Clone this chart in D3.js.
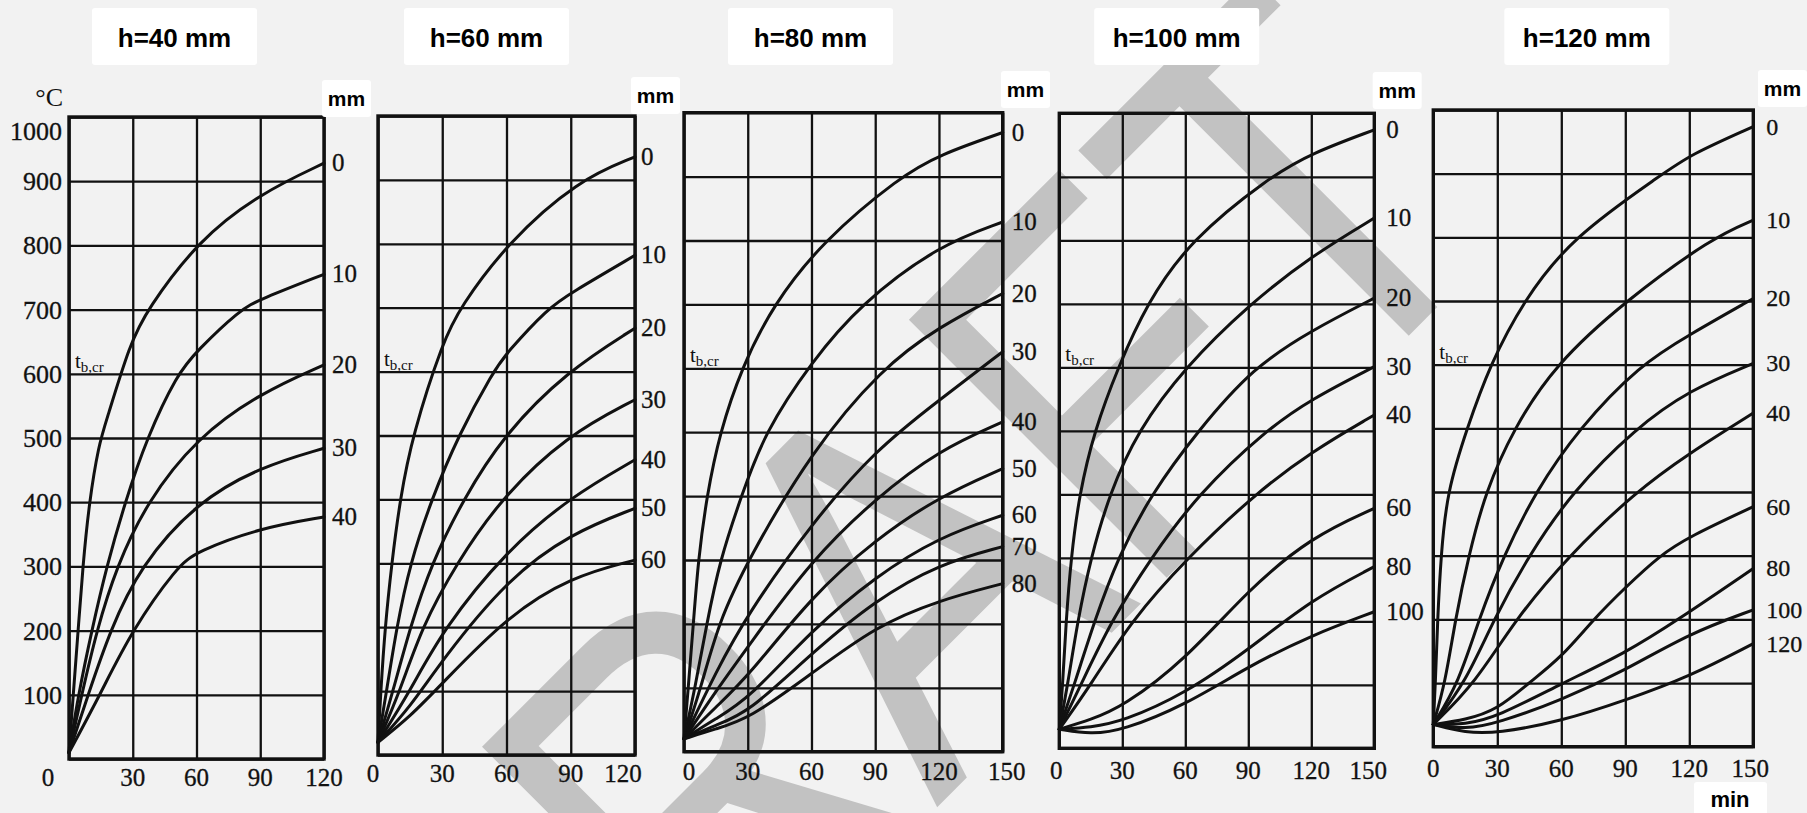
<!DOCTYPE html>
<html><head><meta charset="utf-8">
<script src="https://cdn.jsdelivr.net/npm/d3@7"></script>
<style>html,body{margin:0;padding:0;background:#f2f2f2;overflow:hidden}</style>
</head><body><svg id="chart" width="1807" height="813"></svg>
<script>
// ---------------- DATA ----------------
const panelTitles = ["h=40 mm", "h=60 mm", "h=80 mm", "h=100 mm", "h=120 mm"];
const panelTimeMax = [120, 120, 150, 150, 150];
const timeTicks120 = [0, 30, 60, 90, 120];
const timeTicks150 = [0, 30, 60, 90, 120, 150];
const tempTicks = [0, 100, 200, 300, 400, 500, 600, 700, 800, 900, 1000];
const tempTickLabels = ["0", "100", "200", "300", "400", "500", "600", "700", "800", "900", "1000"];
const depthUnit = "mm", timeUnit = "min", tempUnit = "°C";
const critLabelMain = "t", critLabelSub = "b,cr";

const depths40 = [0, 10, 20, 30, 40];
const depths60 = [0, 10, 20, 30, 40, 50, 60];
const depths80 = [0, 10, 20, 30, 40, 50, 60, 70, 80];
const depths100 = [0, 10, 20, 30, 40, 60, 80, 100];
const depths120 = [0, 10, 20, 30, 40, 60, 80, 100, 120];

// each series: [time (min), temperature (°C)]
const h40 = [
  [[0,10],[2,100],[4.3,200],[6.5,300],[9.5,400],[14,490],[17.7,528],[28.7,647],[36.6,699],[60.8,808],[90,881],[120,928]],
  [[0,10],[4.4,100],[10.7,200],[17.7,300],[26.4,400],[36.6,500],[51,600],[60,635],[80.5,700],[90,716],[120,755]],
  [[0,10],[6,100],[13,200],[22.4,300],[36.6,400],[60,500],[90,570],[120,614]],
  [[0,10],[9,100],[19.3,200],[33.4,300],[60,400],[90,455],[120,484]],
  [[0,10],[14.6,100],[29.5,200],[51,300],[60,323],[90,360],[120,377]]
];
const h60 = [
  [[0,20],[1.3,100],[3.3,200],[6.4,300],[10.3,400],[16,500],[30.5,649],[38.3,700],[60,800],[93.5,900],[120,936]],
  [[0,20],[4,100],[8.7,200],[15,300],[25,400],[37.5,500],[53.8,600],[60,629],[79.6,700],[90,723],[120,782]],
  [[0,20],[7,100],[15,200],[25,300],[39.8,400],[58.5,500],[88,600],[120,668]],
  [[0,20],[10.3,100],[20.4,200],[36.7,300],[57,400],[88,500],[120,556]],
  [[0,20],[15,100],[30,195],[60,320],[90,404],[120,462]],
  [[0,20],[15,75],[30,149],[60,274],[90,347],[120,386]],
  [[0,20],[15,60],[30,112],[60,216],[90,279],[120,305]]
];
const h80 = [
  [[0,20],[2,100],[4.4,200],[6.7,300],[10.7,400],[16.9,500],[27,600],[42,700],[65.6,800],[101.8,900],[120,934],[150,969]],
  [[0,20],[5.2,100],[10.7,200],[16.9,300],[27,400],[38,500],[60,610],[82.8,700],[120,793],[150,829]],
  [[0,20],[8,100],[16,200],[30,300],[60,470],[93,600],[120,665],[150,717]],
  [[0,20],[15,125],[30,216],[60,357],[90,472],[120,550],[150,626]],
  [[0,20],[15,95],[30,164],[60,300],[90,396],[120,472],[150,516]],
  [[0,20],[15,70],[30,117],[60,243],[90,332],[120,399],[150,443]],
  [[0,20],[15,52],[30,81],[60,190],[90,274],[120,336],[150,370]],
  [[0,20],[15,42],[30,60],[60,154],[90,237],[120,294],[150,321]],
  [[0,20],[15,36],[30,50],[60,122],[90,196],[120,237],[150,263]]
];
const h100 = [
  [[0,30],[1.6,100],[3.2,200],[5.6,300],[9.5,400],[16.7,500],[28,600],[41.6,700],[62.2,800],[100.3,900],[120,937],[150,974]],
  [[0,30],[4,100],[8.7,200],[15,300],[23.8,400],[37.3,500],[59.8,600],[90.8,700],[120,775],[150,835]],
  [[0,30],[7.1,100],[16.7,200],[27.8,300],[43.7,400],[66,500],[92.4,600],[120,658],[150,709]],
  [[0,30],[10.3,100],[24.6,200],[43.7,300],[66,400],[98,500],[120,550],[150,601]],
  [[0,30],[15,100],[34,200],[61,300],[93,400],[120,467],[150,525]],
  [[0,30],[15,45],[30,65],[60,139],[90,250],[120,333],[150,378]],
  [[0,30],[15,33],[30,42],[60,86],[90,155],[120,234],[150,286]],
  [[0,30],[15,22],[30,28],[60,68],[90,129],[120,178],[150,215]]
];
const h120 = [
  [[0,35],[1,100],[2,200],[3.6,300],[6.4,400],[15.8,500],[26.6,600],[42.2,700],[64.9,800],[107.8,900],[120,929],[150,974]],
  [[0,35],[5.6,100],[10.3,200],[16.6,300],[24.4,400],[37.7,500],[57,600],[89.9,700],[131,800],[150,827]],
  [[0,35],[11.9,100],[21.3,200],[33,300],[47.8,400],[68.2,500],[96.9,600],[120,647],[150,704]],
  [[0,35],[15,100],[28.3,200],[44.7,300],[65,400],[94.7,500],[120,560],[150,602]],
  [[0,35],[19.7,100],[38.4,200],[63.5,300],[94.7,400],[120,461],[150,524]],
  [[0,35],[15,42],[30,58],[44.7,100],[60,140],[75,200],[90,250],[106,300],[120,330],[150,377]],
  [[0,35],[15,35],[30,47],[60,99],[90,147],[115,200],[150,280]],
  [[0,35],[15,27],[30,37],[60,73],[90,120],[120,178],[150,215]],
  [[0,35],[15,22],[30,21],[60,40],[90,73],[120,110],[150,162]]
];
const panelSeries = [h40, h60, h80, h100, h120];
const panelDepths = [depths40, depths60, depths80, depths100, depths120];
const panelTimeTicks = [timeTicks120, timeTicks120, timeTicks150, timeTicks150, timeTicks150];
const watermarkText = "DRAFT";

// ---------------- LAYOUT ----------------
const layout = [
  {x0:69,     x1:324,    y0:759,   y1:117,   titleCx:174.5,  mmX:322,    mmY:80, gap:8,  xLabY:786, zeroDx:-21, lastDx:0,   dFont:25},
  {x0:378,    x1:635,    y0:755,   y1:116,   titleCx:486.5,  mmX:631,    mmY:77, gap:6,  xLabY:782, zeroDx:-5,  lastDx:-12, dFont:25},
  {x0:684,    x1:1002.7, y0:751.7, y1:112.7, titleCx:810.5,  mmX:1001,   mmY:71, gap:9,  xLabY:780, zeroDx:5,   lastDx:4,   dFont:25},
  {x0:1059.3, x1:1374.3, y0:748.3, y1:113.3, titleCx:1176.7, mmX:1372.7, mmY:72, gap:12, xLabY:779, zeroDx:-3,  lastDx:-6,  dFont:25},
  {x0:1433.3, x1:1753.3, y0:746.7, y1:110,   titleCx:1586.8, mmX:1758,   mmY:70, gap:13, xLabY:777, zeroDx:0,   lastDx:-3,  dFont:24}
];
const serif = "'Liberation Serif','Times New Roman',serif";
const sans = "'Liberation Sans',Arial,sans-serif";
const ink = "#111";

const svg = d3.select("#chart");
svg.append("rect").attr("width",1807).attr("height",813).attr("fill","#f2f2f2");

// watermark (beneath everything)
svg.append("text")
  .attr("transform","translate(492.7,1251.7) rotate(-45) scale(0.82,1)")
  .attr("font-family", sans).attr("font-size", 530)
  .attr("fill","#c2c2c2").text(watermarkText);

const gridLayer = svg.append("g");
const curveLayer = svg.append("g");
const textLayer = svg.append("g");
const boxLayer = svg.append("g");

panelSeries.forEach((series, i) => {
  const L = layout[i];
  const x = d3.scaleLinear().domain([0, panelTimeMax[i]]).range([L.x0, L.x1]);
  const y = d3.scaleLinear().domain([0, 1000]).range([L.y0, L.y1]);
  const g = gridLayer.append("g");

  // vertical grid via axis
  const vAxis = d3.axisBottom(x).tickValues(panelTimeTicks[i]).tickSize(-(L.y0 - L.y1)).tickFormat("");
  const va = g.append("g").attr("transform", `translate(0,${L.y0})`).call(vAxis);
  va.select(".domain").remove();
  va.selectAll("line").attr("stroke", ink).attr("stroke-width", 2.3);

  // horizontal grid via axis
  const hAxis = d3.axisLeft(y).tickValues(tempTicks).tickSize(-(L.x1 - L.x0)).tickFormat("");
  const ha = g.append("g").attr("transform", `translate(${L.x0},0)`).call(hAxis);
  ha.select(".domain").remove();
  ha.selectAll("line").attr("stroke", ink).attr("stroke-width", 2.3);

  // frame
  g.append("rect").attr("x", L.x0).attr("y", L.y1)
    .attr("width", L.x1 - L.x0).attr("height", L.y0 - L.y1)
    .attr("fill","none").attr("stroke", ink).attr("stroke-width", 3.4);

  // curves
  const line = d3.line().x(d => x(d[0])).y(d => y(d[1])).curve(d3.curveBasis);
  curveLayer.append("g").selectAll("path").data(series).join("path")
    .attr("d", line).attr("fill","none").attr("stroke", ink)
    .attr("stroke-width", 3).attr("stroke-linecap","round");

  // depth labels at curve ends
  const depths = panelDepths[i];
  textLayer.append("g").selectAll("text").data(series).join("text")
    .attr("x", L.x1 + L.gap)
    .attr("y", d => y(d[d.length - 1][1]) + 8)
    .attr("font-family", serif).attr("font-size", L.dFont).attr("fill", ink)
    .attr("stroke", ink).attr("stroke-width", 0.3)
    .text((d, k) => depths[k]);

  // time tick labels
  const ticks = panelTimeTicks[i];
  textLayer.append("g").selectAll("text").data(ticks).join("text")
    .attr("x", (d, k) => x(d) + (k === 0 ? L.zeroDx : (k === ticks.length - 1 ? L.lastDx : 0)))
    .attr("y", L.xLabY)
    .attr("text-anchor","middle")
    .attr("font-family", serif).attr("font-size", 25).attr("fill", ink)
    .attr("stroke", ink).attr("stroke-width", 0.3)
    .text(d => d);

  // t_b,cr label
  const tl = textLayer.append("text")
    .attr("x", L.x0 + 6).attr("y", y(600) - 6)
    .attr("font-family", serif).attr("font-size", 21).attr("fill", ink);
  tl.append("tspan").text(critLabelMain);
  tl.append("tspan").attr("font-size", 15).attr("dy", 4).text(critLabelSub);

  // title box
  boxLayer.append("rect").attr("x", L.titleCx - 82.5).attr("y", 8)
    .attr("width", 165).attr("height", 57).attr("rx", 3).attr("fill","#fff");
  boxLayer.append("text").attr("x", L.titleCx).attr("y", 47)
    .attr("text-anchor","middle").attr("font-family", sans)
    .attr("font-weight","bold").attr("font-size", 26).attr("fill","#000")
    .text(panelTitles[i]);

  // mm box
  boxLayer.append("rect").attr("x", L.mmX).attr("y", L.mmY)
    .attr("width", 49).attr("height", 37).attr("rx", 3).attr("fill","#fff");
  boxLayer.append("text").attr("x", L.mmX + 24.5).attr("y", L.mmY + 26)
    .attr("text-anchor","middle").attr("font-family", sans)
    .attr("font-weight","bold").attr("font-size", 21).attr("fill","#000")
    .text(depthUnit);

  // left temperature axis labels (first panel only)
  if (i === 0) {
    textLayer.append("g").selectAll("text").data(tempTicks.slice(1)).join("text")
      .attr("x", 62)
      .attr("y", d => y(d) + (d === 1000 ? 23 : 9))
      .attr("text-anchor","end")
      .attr("font-family", serif).attr("font-size", 26).attr("fill", ink)
      .attr("stroke", ink).attr("stroke-width", 0.3)
      .text(d => tempTickLabels[tempTicks.indexOf(d)]);
    textLayer.append("text").attr("x", 63).attr("y", 106)
      .attr("text-anchor","end").attr("font-family", serif)
      .attr("font-size", 26).attr("fill", ink).text(tempUnit);
  }
});

// time unit box
boxLayer.append("rect").attr("x", 1694).attr("y", 782).attr("width", 73).attr("height", 40)
  .attr("rx", 3).attr("fill","#fff");
boxLayer.append("text").attr("x", 1730).attr("y", 807).attr("text-anchor","middle")
  .attr("font-family", sans).attr("font-weight","bold").attr("font-size", 22)
  .attr("fill","#000").text(timeUnit);
</script>
</body></html>
